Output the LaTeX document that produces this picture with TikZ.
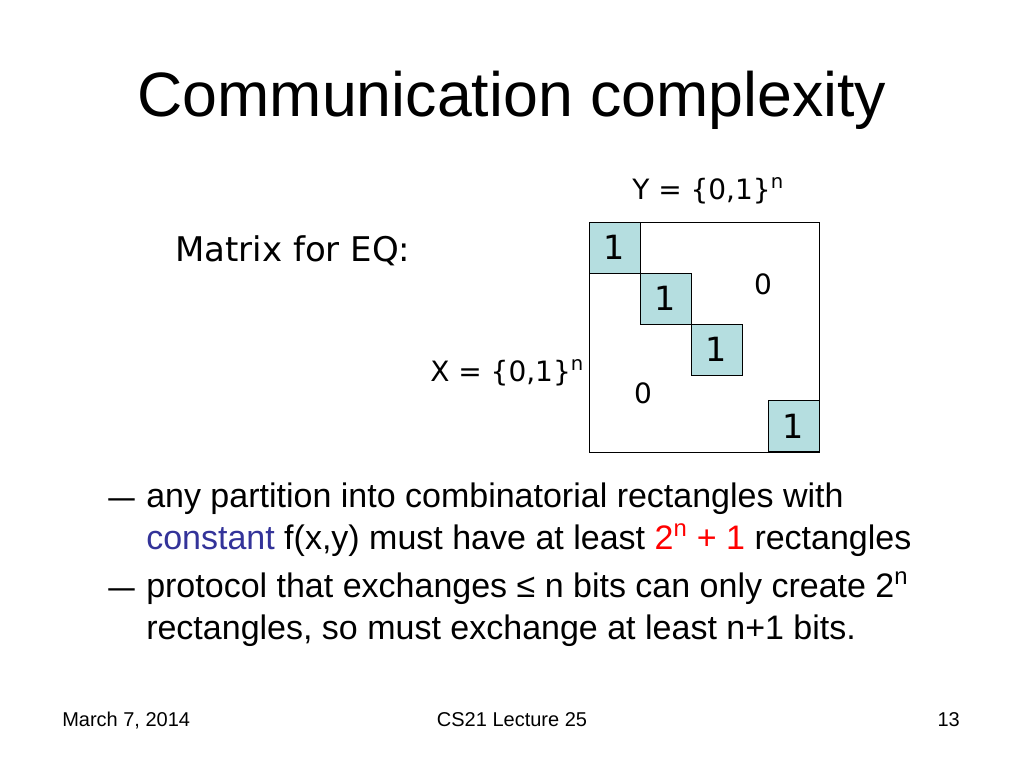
\documentclass[tikz,border=0pt]{standalone}
\usepackage{fontspec}
\setmainfont{Liberation Sans}
\newfontfamily\comicfont{DejaVu Sans}
\usepackage{tikz}
\usetikzlibrary{positioning}

\definecolor{cellfill}{RGB}{181,222,224}
\definecolor{constblue}{RGB}{51,51,153}

\begin{document}
\begin{tikzpicture}[x=0.75pt, y=-0.75pt,
    cell/.style={draw, fill=cellfill, minimum size=38.25pt, inner sep=0pt, font=\comicfont\fontsize{25}{25}\selectfont},
    lbl/.style={inner sep=0pt, font=\comicfont\fontsize{21}{21}\selectfont},
    body/.style={anchor=base west, inner sep=0pt, font=\fontsize{25.5}{25.5}\selectfont},
    foot/.style={anchor=base, inner sep=0pt, font=\fontsize{15}{15}\selectfont}]
    \useasboundingbox (0,0) rectangle (1024,768);
    % Title
    \node[inner sep=0pt, font=\fontsize{47}{47}\selectfont] (title) at (512,100) {Communication complexity};
    % Matrix
    \draw (589,222) rectangle (819,452);
    \node[cell] (c1) at (614.5,247.5) {1};
    \node[cell] (c2) at (665.5,298.5) {1};
    \node[cell] (c3) at (716.5,349.5) {1};
    \node[cell] (c4) at (793.5,426) {1};
    \node[lbl] (zup) at (763,284) {0};
    \node[lbl] (zlo) at (643,393) {0};
    % Labels
    \node[lbl, anchor=base west] (ylbl) at (632,199) {Y = \{0,1\}\textsuperscript{n}};
    \node[lbl, anchor=base west] (xlbl) at (430,381) {X = \{0,1\}\textsuperscript{n}};
    \node[lbl, anchor=base west, font=\comicfont\fontsize{25.5}{25.5}\selectfont] (eq) at (175,261) {Matrix for EQ:};
    % Bullets
    \node[body] (d1) at (108,508) {\scalebox{1.4}[1]{--}};
    \node[body] (b1) at (146,507) {any partition into combinatorial rectangles with};
    \node[body] (b2) at (146,549) {\textcolor{constblue}{constant} f(x,y) must have at least \textcolor{red}{2\textsuperscript{n} + 1} rectangles};
    \node[body] (d2) at (108,598) {\scalebox{1.4}[1]{--}};
    \node[body] (b3) at (146,597) {protocol that exchanges ≤ n bits can only create 2\textsuperscript{n}};
    \node[body] (b4) at (146,639) {rectangles, so must exchange at least n+1 bits.};
    % Footer
    \node[foot, anchor=base west] (date) at (62,726) {March 7, 2014};
    \node[foot] (course) at (512,726) {CS21 Lecture 25};
    \node[foot, anchor=base east] (page) at (960,726) {13};
\end{tikzpicture}
\end{document}
